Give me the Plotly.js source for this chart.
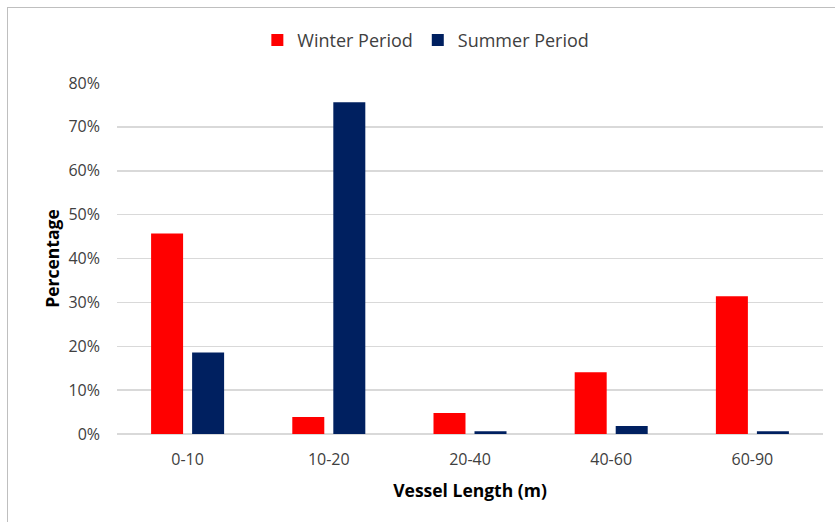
<!DOCTYPE html>
<html>
<head>
<meta charset="utf-8">
<script src="https://cdn.plot.ly/plotly-3.0.1.min.js"></script>
<style>
  html, body { margin: 0; padding: 0; background: #fff; }
  #wrap { position: relative; width: 835px; height: 522px; overflow: hidden; }
  #chart { width: 835px; height: 522px; }
  /* chart-area frame */
  #frame { position: absolute; left: 7px; top: 7px; width: 900px; height: 600px;
           border: 1px solid #bfbfbf; pointer-events: none; }
</style>
</head>
<body>
<div id="wrap">
  <div id="chart"></div>
  <div id="frame"></div>
</div>
<script>
// Vessel length classes and share of vessels (%) per period
const lengthClasses = ['0-10', '10-20', '20-40', '40-60', '60-90'];
const winterShare = [45.7, 3.9, 4.8, 14.1, 31.4];
const summerShare = [18.6, 75.6, 0.6, 1.8, 0.6];
const yTicks = [0, 10, 20, 30, 40, 50, 60, 70, 80];

const FONT = 'Open Sans, Noto Sans, sans-serif';

const traces = [
  {
    type: 'bar', name: 'Winter Period',
    x: lengthClasses, y: winterShare,
    marker: { color: '#ff0000' },
    hoverinfo: 'x+y+name'
  },
  {
    type: 'bar', name: 'Summer Period',
    x: lengthClasses, y: summerShare,
    marker: { color: '#002060' },
    hoverinfo: 'x+y+name'
  }
];

const layout = {
  width: 835, height: 522,
  margin: { l: 117, r: 12, t: 83, b: 88 },
  paper_bgcolor: '#ffffff',
  plot_bgcolor: '#ffffff',
  font: { family: FONT, size: 16, color: '#404040' },
  barmode: 'group',
  bargap: 0.419,
  bargroupgap: 0.22,
  showlegend: true,
  legend: {
    orientation: 'h',
    xref: 'container', yref: 'container',
    x: 0.51, xanchor: 'center',
    y: 0.923, yanchor: 'middle',
    font: { family: FONT, size: 18, color: '#404040' },
    itemwidth: 30
  },
  xaxis: {
    type: 'category',
    showgrid: false, zeroline: false,
    showline: false,
    ticks: '',
    ticklabelstandoff: 14,
    tickfont: { family: FONT, size: 16, color: '#404040' },
    title: { text: 'Vessel Length (m)', font: { family: FONT, size: 17.5, color: '#000000', weight: 'bold' }, standoff: 15 }
  },
  yaxis: {
    range: [0, 80],
    tickvals: yTicks,
    ticktext: yTicks.map(v => v + '%'),
    showgrid: true, gridcolor: '#d9d9d9', gridwidth: 1.5,
    zeroline: true, zerolinecolor: '#d9d9d9', zerolinewidth: 1.5,
    showline: false, ticks: '',
    ticklabelstandoff: 16,
    tickfont: { family: FONT, size: 16, color: '#404040' },
    title: { text: 'Percentage', font: { family: FONT, size: 17.5, color: '#000000', weight: 'bold' }, standoff: 4 }
  }
};

Plotly.newPlot('chart', traces, layout, { displayModeBar: false, staticPlot: true });
</script>
</body>
</html>
